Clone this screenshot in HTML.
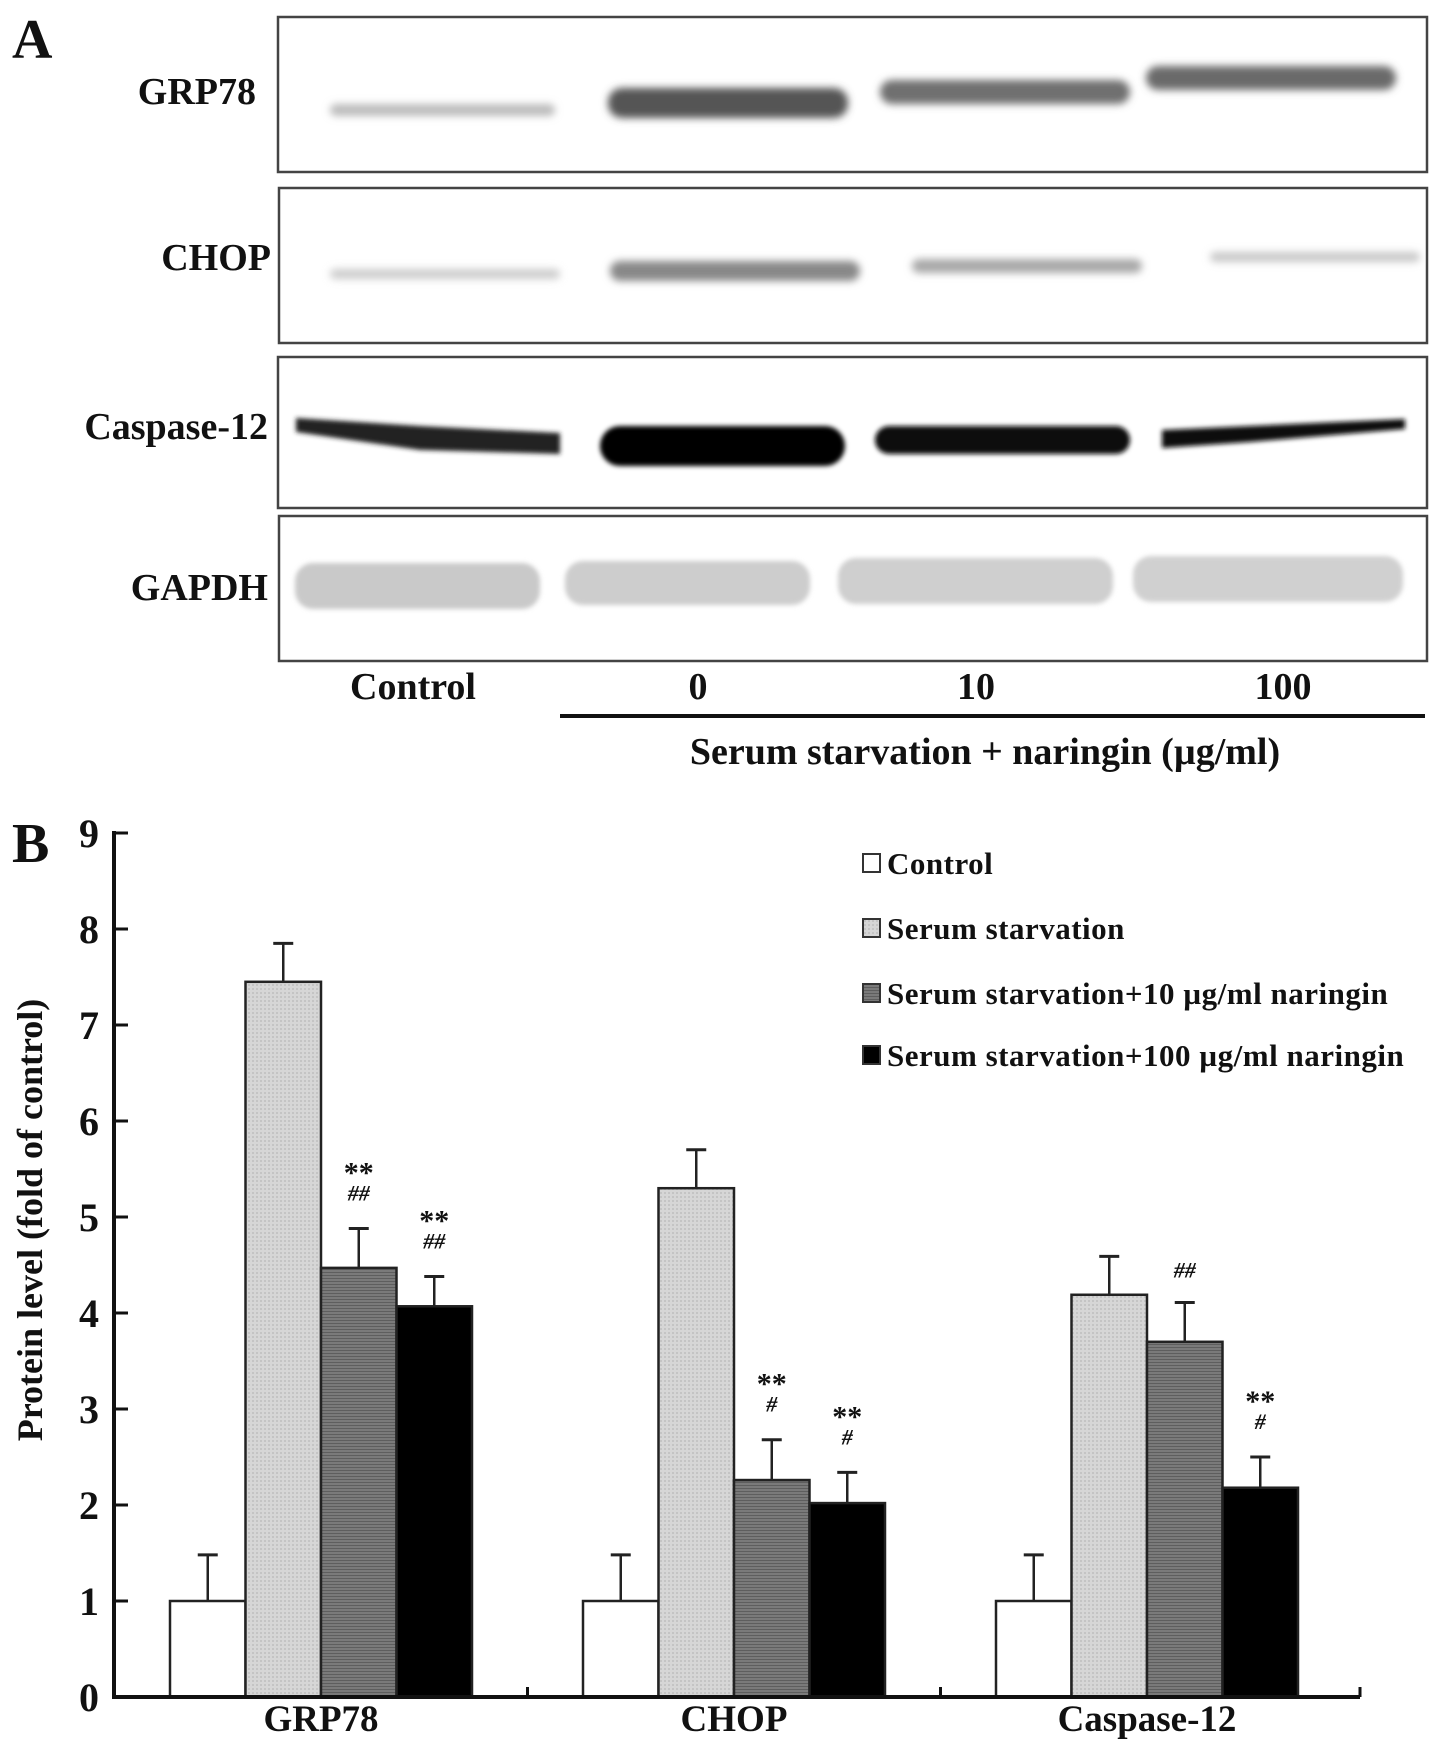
<!DOCTYPE html>
<html><head><meta charset="utf-8"><style>
html,body{margin:0;padding:0;background:#fff;}
svg{display:block;}
text{font-family:"Liberation Serif",serif;font-weight:bold;fill:#111;}
</style></head><body>
<svg id="fig" width="1441" height="1754" viewBox="0 0 1441 1754">
<defs>
<filter id="blur" x="-20%" y="-100%" width="140%" height="300%"><feGaussianBlur stdDeviation="4"/></filter>
<filter id="blur2" x="-20%" y="-100%" width="140%" height="300%"><feGaussianBlur stdDeviation="2.5"/></filter>
<pattern id="dots" width="4" height="4" patternUnits="userSpaceOnUse"><rect width="4" height="4" fill="#d6d6d6"/><rect width="2" height="2" fill="#c4c4c4"/></pattern>
<pattern id="lines" width="4" height="3" patternUnits="userSpaceOnUse"><rect width="4" height="3" fill="#7a7a7a"/><rect width="4" height="1" fill="#5e5e5e"/></pattern>
</defs>

<g>
<text x="12" y="58" font-size="56">A</text>
<rect x="278" y="17" width="1149" height="155" fill="none" stroke="#444" stroke-width="2.5"/>
<rect x="279" y="188" width="1148" height="155" fill="none" stroke="#444" stroke-width="2.5"/>
<rect x="278" y="357" width="1149" height="151" fill="none" stroke="#444" stroke-width="2.5"/>
<rect x="279" y="516" width="1148" height="145" fill="none" stroke="#444" stroke-width="2.5"/>

<text x="256" y="104" font-size="38" text-anchor="end">GRP78</text>
<text x="271" y="270" font-size="38" text-anchor="end">CHOP</text>
<text x="268" y="439" font-size="38" text-anchor="end">Caspase-12</text>
<text x="268" y="600" font-size="38" text-anchor="end">GAPDH</text>

<g filter="url(#blur)">
<rect x="330" y="104" width="225" height="12" rx="6" fill="#bbb"/>
<rect x="608" y="88" width="240" height="30" rx="14" fill="#555"/>
<rect x="880" y="80" width="250" height="24" rx="12" fill="#707070"/>
<rect x="1146" y="66" width="250" height="24" rx="12" fill="#6a6a6a"/>
</g>
<g filter="url(#blur)">
<rect x="330" y="269" width="230" height="10" rx="5" fill="#ccc"/>
<rect x="610" y="261" width="250" height="20" rx="10" fill="#888"/>
<rect x="912" y="259" width="230" height="14" rx="7" fill="#a8a8a8"/>
<rect x="1210" y="252" width="210" height="10" rx="5" fill="#c8c8c8"/>
</g>
<g filter="url(#blur2)">
<polygon points="296,418 420,426 560,433 560,454 420,450 296,432" fill="#222"/>
<rect x="600" y="426" width="245" height="40" rx="20" fill="#000"/>
<rect x="875" y="426" width="255" height="28" rx="14" fill="#0a0a0a"/>
<polygon points="1162,430 1250,426 1405,419 1405,429 1250,442 1162,448" fill="#111"/>
</g>
<g filter="url(#blur2)">
<rect x="295" y="563" width="245" height="46" rx="18" fill="#c9c9c9"/>
<rect x="565" y="561" width="245" height="44" rx="18" fill="#cdcdcd"/>
<rect x="838" y="558" width="275" height="46" rx="18" fill="#cfcfcf"/>
<rect x="1133" y="556" width="270" height="46" rx="18" fill="#d0d0d0"/>
</g>

<text x="413" y="699" font-size="38" text-anchor="middle">Control</text>
<text x="698" y="699" font-size="38" text-anchor="middle">0</text>
<text x="976" y="699" font-size="38" text-anchor="middle">10</text>
<text x="1283" y="699" font-size="38" text-anchor="middle">100</text>
<line x1="560" y1="716" x2="1425" y2="716" stroke="#111" stroke-width="4"/>
<text x="985" y="764" font-size="38" text-anchor="middle">Serum starvation + naringin (µg/ml)</text>
</g>

<g id="chart">
<text x="12" y="862" font-size="56">B</text>
<text transform="translate(42,1220) rotate(-90)" font-size="36" text-anchor="middle">Protein level (fold of control)</text>
</g>
</svg>
<script>
const categories = ["GRP78", "CHOP", "Caspase-12"];
const seriesNames = ["Control", "Serum starvation", "Serum starvation+10 µg/ml naringin", "Serum starvation+100 µg/ml naringin"];
const controlVals = [1, 1, 1];
const serumVals = [7.45, 5.30, 4.19];
const nar10Vals = [4.47, 2.26, 3.70];
const nar100Vals = [4.07, 2.02, 2.18];
const controlErr = [0.48, 0.48, 0.48];
const serumErr = [0.40, 0.40, 0.40];
const nar10Err = [0.41, 0.42, 0.41];
const nar100Err = [0.31, 0.32, 0.32];
const starMarks = [["", "", "**", "**"], ["", "", "**", "**"], ["", "", "", "**"]];
const hashMarks = [["", "", "##", "##"], ["", "", "#", "#"], ["", "", "##", "#"]];
const yTicks = [0, 1, 2, 3, 4, 5, 6, 7, 8, 9];

const NS = "http://www.w3.org/2000/svg";
const chart = document.getElementById("chart");
const X0 = 114, X1 = 1360, Y0 = 1697, UNIT = 96;
const GROUP0 = 170, GROUP_STEP = 413, BW = 75.5;
function y(v){ return Y0 - v*UNIT; }
function xBar(g, s){ return GROUP0 + g*GROUP_STEP + s*BW; }
function mk(tag, attrs){ const e = document.createElementNS(NS, tag); for (const k in attrs) e.setAttribute(k, attrs[k]); chart.appendChild(e); return e; }
const fills = ["#fff", "url(#dots)", "url(#lines)", "#000"];
const allVals = [controlVals, serumVals, nar10Vals, nar100Vals];
const allErr = [controlErr, serumErr, nar10Err, nar100Err];

yTicks.forEach(t => {
  const tk = mk("line", {x1: X0, x2: X0+14, y1: y(t), y2: y(t), stroke: "#111", "stroke-width": 3});
  
  
  const lb = mk("text", {x: 99, y: y(t)+14, "font-size": 40, "text-anchor": "end"});
  lb.textContent = t;
  
  
});

categories.forEach((c, g) => {
  for (let s = 0; s < 4; s++) {
    const v = allVals[s][g], e = allErr[s][g];
    const bx = xBar(g, s), cx = bx + BW/2;
    const bar = mk("rect", {x: bx, y: y(v), width: BW, height: y(0)-y(v), fill: fills[s], stroke: "#222", "stroke-width": 2.5});
    
    
    const el = mk("line", {x1: cx, x2: cx, y1: y(v), y2: y(v+e), stroke: "#222", "stroke-width": 2.5});
    
    
    const cap = mk("line", {x1: cx-10, x2: cx+10, y1: y(v+e), y2: y(v+e), stroke: "#222", "stroke-width": 3});
    
    
    if (starMarks[g][s]) {
      const st = mk("text", {x: cx, y: y(v+e)-46, "font-size": 30, "text-anchor": "middle"});
      st.textContent = starMarks[g][s];
      
      
    }
    if (hashMarks[g][s]) {
      const hs = mk("text", {x: cx, y: y(v+e)-(starMarks[g][s] ? 28 : 25), "font-size": 22, "font-style": "italic", "text-anchor": "middle"});
      hs.textContent = hashMarks[g][s];
      
      
    }
  }
  const cl = mk("text", {x: xBar(g, 2), y: 1731, "font-size": 37, "text-anchor": "middle"});
  cl.textContent = c;
  
  
});

const ya = mk("line", {x1: X0, x2: X0, y1: y(9)-2, y2: Y0+2, stroke: "#111", "stroke-width": 4});


const xa = mk("line", {x1: X0, x2: X1, y1: Y0, y2: Y0, stroke: "#111", "stroke-width": 4});


[1, 2, 3].forEach(i => {
  const gx = i < 3 ? (xBar(i-1, 4) + xBar(i, 0))/2 : X1;
  const t = mk("line", {x1: gx, x2: gx, y1: Y0, y2: Y0-10, stroke: "#111", "stroke-width": 3});
  
  
});

const legY = [863, 928, 993, 1055];
seriesNames.forEach((n, i) => {
  const sw = mk("rect", {x: 863, y: legY[i]-9, width: 17, height: 18, fill: fills[i], stroke: "#333", "stroke-width": 2});
  
  
  const t = mk("text", {x: 887, y: legY[i]+11, "font-size": 31, "letter-spacing": "0.5"});
  t.textContent = n;
  
  
});
</script>
</body></html>
